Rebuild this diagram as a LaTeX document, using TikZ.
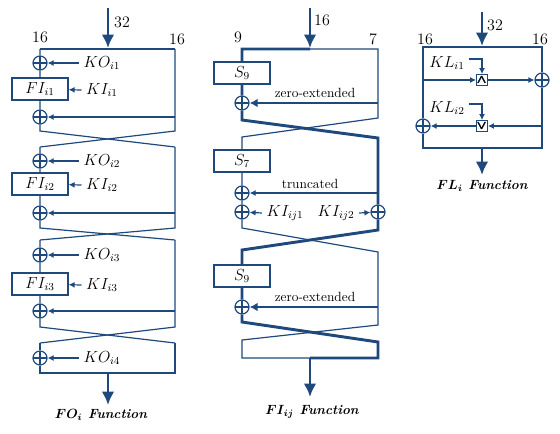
\documentclass[tikz,border=0pt]{standalone}
\usepackage{amsmath}
\usetikzlibrary{arrows.meta}
\definecolor{birutua}{RGB}{31,73,125}
\tikzset{
  garis/.style={birutua, line width=0.9pt},
  tebal/.style={birutua, line width=2.2pt},
  panah/.style={garis, -{Latex[length=4.5pt,width=4.5pt]}},
  panahtebal/.style={tebal, -{Latex[length=6pt,width=6.5pt]}},
  panahbesar/.style={tebal, -{Latex[length=10pt,width=9.5pt]}},
  xor/.style={circle, draw=birutua, line width=0.9pt, minimum size=10.5pt, inner sep=0pt,
    path picture={\draw[birutua, line width=0.9pt]
      (path picture bounding box.north) -- (path picture bounding box.south)
      (path picture bounding box.west) -- (path picture bounding box.east);}},
  kotak/.style={draw=birutua, line width=0.9pt, minimum width=42pt, minimum height=16.5pt, inner sep=0pt},
  kecil/.style={draw=birutua, line width=0.9pt, minimum size=8pt, inner sep=0pt, font=\small},
  teks/.style={font=\fontsize{10}{12}\selectfont},
  judul/.style={font=\fontsize{10}{12}\selectfont\bfseries\itshape},
}
\begin{document}
\begin{tikzpicture}[x=0.75pt, y=-0.75pt, every node/.style={font=\fontsize{12}{14}\selectfont}]
\useasboundingbox (0,0) rectangle (560,433);

% Fungsi FO: masukan dan label lebar
\draw[panahbesar] (108,8) -- (108,48);
\node (fo32) at (122,22) {32};
\node (fo16a) at (40,37) {16};
\node (fo16b) at (177,39) {16};
\draw[garis] (40,49) -- (175,49);

% Tiga putaran FO dengan persilangan
\foreach \a/\x/\f/\b/\c/\d/\k in {49/63/89/117/131/147/1, 147/161/184/213/228/240/2, 240/255/284/311/327/343/3} {
  \node[xor] (ko\k) at (40,\x) {};
  \node[kotak] (fi\k) at (40,\f) {$FI_{i\k}$};
  \node[xor] (xr\k) at (40,\b) {};
  \node (lko\k) at (102,\x) {$KO_{i\k}$};
  \node (lki\k) at (102,\f+1) {$KI_{i\k}$};
  \draw[garis] (40,\a) -- (ko\k) -- (fi\k) -- (xr\k) -- (40,\c) -- (175,\d);
  \draw[garis] (175,\a) -- (175,\c) -- (40,\d);
  \draw[panah] (lko\k.west) -- (ko\k);
  \draw[panah] (lki\k.west) -- (fi\k);
  \draw[panah] (175,\b) -- (xr\k);
}

% Putaran terakhir FO dan keluaran
\node[xor] (ko4) at (40,358) {};
\node (lko4) at (102,358) {$KO_{i4}$};
\draw[garis] (40,343) -- (ko4) -- (40,373) -- (175,373) -- (175,343);
\draw[panah] (lko4.west) -- (ko4);
\draw[panahbesar] (108,373) -- (108,405);
\node[judul] (fojudul) at (101,415) {$\boldsymbol{FO_i}$ Function};

% Fungsi FI: masukan dan label lebar
\draw[panahbesar] (310,8) -- (310,48);
\node (fi16) at (322,20) {16};
\node (fi9) at (238,37) {9};
\node (fi7) at (373,39) {7};

% Kotak S dan XOR pada FI
\node[kotak] (s9a) at (242,73) {$S_9$};
\node[xor] (xa) at (242,103) {};
\node[kotak] (s7) at (242,161) {$S_7$};
\node[xor] (xb) at (242,193) {};
\node[xor] (xc) at (242,212) {};
\node[xor] (xd) at (378,212) {};
\node[kotak] (s9b) at (242,276) {$S_9$};
\node[xor] (xe) at (242,307) {};

% Jalur tipis (7 bit) dan jalur tebal (9 bit)
\draw[garis] (310,49) -- (378,49) -- (378,118) -- (242,137) -- (s7) -- (xb) -- (xc) -- (242,228) -- (378,252) -- (378,325) -- (242,340) -- (242,358) -- (310,358);
\draw[tebal] (310,49) -- (242,49) -- (s9a) -- (xa) -- (242,120) -- (378,138) -- (xd) -- (378,230) -- (242,250) -- (s9b) -- (xe) -- (242,322) -- (378,342) -- (378,358) -- (310,358);

% Panah masukan ke XOR pada FI
\node[teks] (ze1) at (315,93) {zero-extended};
\node[teks] (tr) at (310,184) {truncated};
\node[teks] (ze2) at (315,297) {zero-extended};
\node (lkia) at (285,213) {$KI_{ij1}$};
\node (lkib) at (336,213) {$KI_{ij2}$};
\draw[panahtebal] (378,103) -- (xa);
\draw[panah] (378,193) -- (xb);
\draw[panah] (lkia.west) -- (xc);
\draw[panah] (lkib.east) -- (xd);
\draw[panahtebal] (378,307) -- (xe);

% Keluaran FI
\draw[panahbesar] (310,358) -- (310,397);
\node[judul] (fijudul) at (312,412) {$\boldsymbol{FI_{ij}}$ Function};

% Fungsi FL: masukan dan label lebar
\draw[panahbesar] (482,12) -- (482,46);
\node (fl32) at (495,25) {32};
\node (fl16a) at (425,39) {16};
\node (fl16b) at (540,39) {16};

% Gerbang AND, OR dan XOR pada FL
\node[xor] (fx1) at (542,80) {};
\node[xor] (fx2) at (423,126) {};
\node[kecil] (dan) at (482,80) {\pmb{$\boldsymbol{\wedge}$}};
\node[kecil] (atau) at (482,126) {\pmb{$\boldsymbol{\vee}$}};
\node (lkl1) at (447,63) {$KL_{i1}$};
\node (lkl2) at (447,108) {$KL_{i2}$};
\draw[garis] (fx2) -- (423,47) -- (542,47) -- (fx1) -- (542,148) -- (423,148) -- (fx2);
\draw[panah] (423,80) -- (dan);
\draw[panah] (dan) -- (fx1);
\draw[panah] (542,126) -- (atau);
\draw[panah] (atau) -- (fx2);
\draw[panah] ([yshift=3pt]lkl1.east) -| (dan);
\draw[panah] ([yshift=3pt]lkl2.east) -| (atau);

% Keluaran FL
\draw[panahbesar] (482,148) -- (482,175);
\node[judul] (fljudul) at (482,186) {$\boldsymbol{FL_i}$ Function};
\end{tikzpicture}
\end{document}
